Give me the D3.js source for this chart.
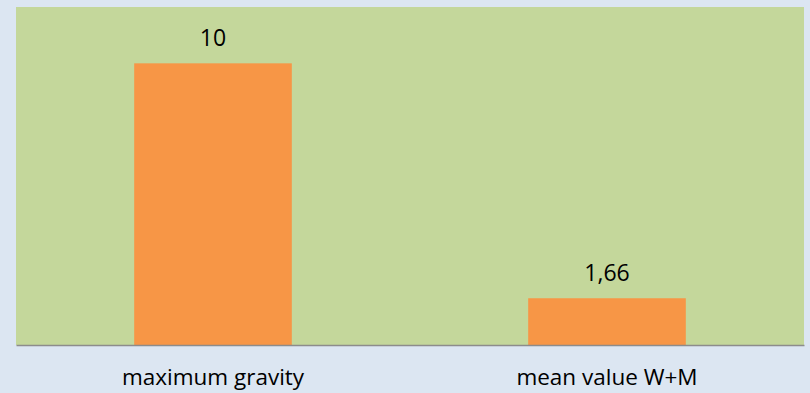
<!DOCTYPE html>
<meta charset="utf-8">
<html>
<head>
  <script src="https://d3js.org/d3.v7.min.js"></script>
  <style>
    body { margin: 0; background-color: #dce6f2; }
    svg { display: block; font-family: "Open Sans", sans-serif; }
  </style>
</head>
<body>
  <svg width="810" height="393"></svg>
  <script>
    const categories = ["maximum gravity", "mean value W+M"];
    const values = [10, 1.66];
    const valueLabels = ["10", "1,66"];
    const yTicks = [0, 12];

    const margin = {top: 7, right: 6, bottom: 48, left: 16},
          width = 810 - margin.left - margin.right,
          height = 393 - margin.top - margin.bottom;

    const svg = d3.select("svg");
    svg.append("rect").attr("width", 810).attr("height", 393).attr("fill", "#dce6f2");

    const g = svg.append("g")
        .attr("transform", `translate(${margin.left},${margin.top})`);

    g.append("rect")
        .attr("width", width)
        .attr("height", height)
        .attr("fill", "#c4d79b");

    const x = d3.scaleBand().domain(categories).range([0, width]).padding(0);
    const y = d3.scaleLinear().domain(d3.extent(yTicks)).range([height, 0]);
    const barW = x.bandwidth() * 0.4;

    g.selectAll(".bar")
      .data(values)
      .enter().append("rect")
        .attr("class", "bar")
        .attr("x", (d, i) => x(categories[i]) + (x.bandwidth() - barW) / 2)
        .attr("y", d => y(d))
        .attr("width", barW)
        .attr("height", d => height - y(d))
        .attr("fill", "#f79646");

    g.selectAll(".val")
      .data(values)
      .enter().append("text")
        .attr("class", "val")
        .attr("x", (d, i) => x(categories[i]) + x.bandwidth() / 2)
        .attr("y", d => y(d) - 17.5)
        .attr("text-anchor", "middle")
        .attr("font-size", "23px")
        .attr("fill", "#000")
        .text((d, i) => valueLabels[i]);

    const xAxis = g.append("g")
        .attr("transform", `translate(0,${height})`)
        .call(d3.axisBottom(x).tickSize(0).tickPadding(0));
    xAxis.select(".domain").attr("stroke", "#8c8c8c").attr("stroke-width", 1.5);
    xAxis.selectAll("text")
        .attr("dy", null)
        .attr("y", 40)
        .attr("font-size", "22.5px")
        .attr("font-family", "Open Sans, sans-serif")
        .attr("fill", "#000");
  </script>
</body>
</html>
